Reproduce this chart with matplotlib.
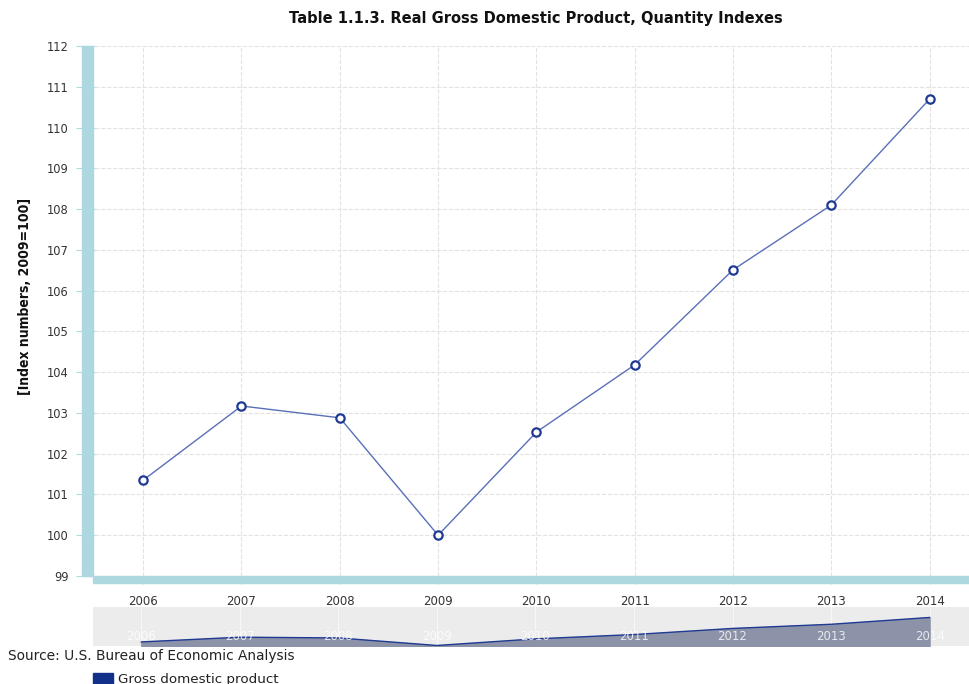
import matplotlib
matplotlib.use('Agg')
import matplotlib.pyplot as plt
from matplotlib.patches import Rectangle

# data
years = [2006, 2007, 2008, 2009, 2010, 2011, 2012, 2013, 2014]
gdp = [101.35, 103.17, 102.88, 100.0, 102.53, 104.18, 106.51, 108.10, 110.70]
yticks = list(range(99, 113))

W, H = 969, 684
fig = plt.figure(figsize=(W / 100, H / 100), dpi=100)

def box(x0, y0, x1, y1):
    # pixel box -> figure fraction rect
    return [x0 / W, 1 - y1 / H, (x1 - x0) / W, (y1 - y0) / H]

# main plot
ax = fig.add_axes(box(95, 46, 969, 576))
ax.plot(years, gdp, color='#5a6fb8', linewidth=1, marker='o', markersize=6,
        markerfacecolor='white', markeredgecolor='#1f3a93', markeredgewidth=1.6,
        zorder=3)
ax.set_xlim(2005.51, 2014.4)
ax.set_ylim(99, 112)
ax.set_yticks(yticks)
ax.set_xticks(years)
ax.grid(True, color='#e2e2e2', linestyle='--', linewidth=0.8)
for s in ax.spines.values():
    s.set_visible(False)
ax.tick_params(axis='y', length=14, color='#add8e6', labelsize=8.3, labelcolor='#333333', pad=5)
ax.tick_params(axis='x', length=6, color='#add8e6', labelsize=8.5, labelcolor='#333333', pad=7.5)

fig.text(25 / W, 1 - 296 / H, '[Index numbers, 2009=100]', rotation=90,
         ha='center', va='center', fontsize=10, fontweight='bold',
         family='DejaVu Sans', fontstretch='condensed', color='#111111')

# light blue axis bars
fig.patches.append(Rectangle((82 / W, 1 - 576 / H), 11 / W, 530 / H,
                             transform=fig.transFigure, color='#add8e0', zorder=5))
fig.patches.append(Rectangle((93 / W, 1 - 583 / H), 876 / W, 7 / H,
                             transform=fig.transFigure, color='#add8e0', zorder=5))

fig.text(536 / W, 1 - 19 / H, 'Table 1.1.3. Real Gross Domestic Product, Quantity Indexes',
         ha='center', va='center', fontsize=10.5, fontweight='bold', color='#111111')

# navigator
nav = fig.add_axes(box(93, 607, 969, 646))
nav.set_facecolor('#ececec')
nav.fill_between(years, gdp, 99.8, color='#8c93a8', zorder=2)
nav.plot(years, gdp, color='#1f3a93', linewidth=1, zorder=3)
nav.set_xlim(2005.51, 2014.4)
nav.set_ylim(99.8, 114.7)
for y in years:
    nav.axvline(y, color='white', linewidth=0.8, alpha=0.6, zorder=1)
    nav.text(y, 103.4, str(y), ha='center', va='center', fontsize=8.5,
             color='white', alpha=0.8, zorder=4)
nav.set_xticks([])
nav.set_yticks([])
for s in nav.spines.values():
    s.set_visible(False)

fig.text(8 / W, 1 - 656 / H, 'Source: U.S. Bureau of Economic Analysis',
         ha='left', va='center', fontsize=9.9, color='#222222')
fig.patches.append(Rectangle((93 / W, 1 - 684 / H), 20 / W, 11 / H,
                             transform=fig.transFigure, color='#10308a'))
fig.text(118 / W, 1 - 679 / H, 'Gross domestic product',
         ha='left', va='center', fontsize=9.7, color='#222222')

fig.savefig('out.png', dpi=100)
